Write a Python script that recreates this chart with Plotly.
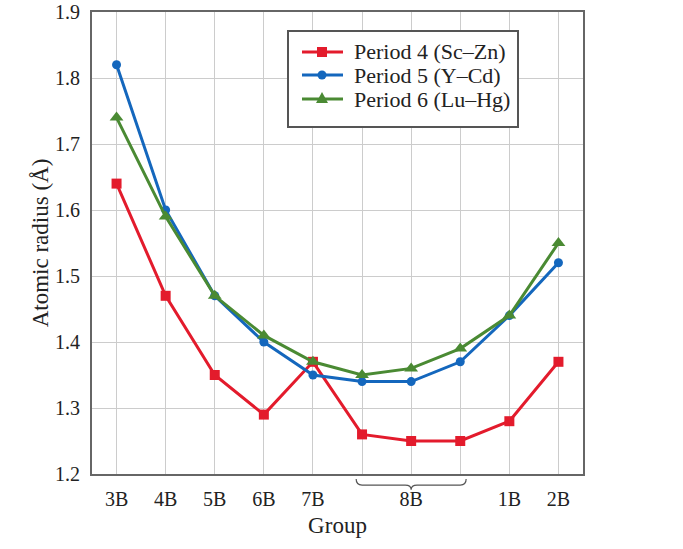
import plotly.graph_objects as go

groups = ["3B", "4B", "5B", "6B", "7B", "", "8B", "", "1B", "2B"]
positions = list(range(10))
period4 = [1.64, 1.47, 1.35, 1.29, 1.37, 1.26, 1.25, 1.25, 1.28, 1.37]
period5 = [1.82, 1.60, 1.47, 1.40, 1.35, 1.34, 1.34, 1.37, 1.44, 1.52]
period6 = [1.74, 1.59, 1.47, 1.41, 1.37, 1.35, 1.36, 1.39, 1.44, 1.55]
names = ["Period 4 (Sc\u2013Zn)", "Period 5 (Y\u2013Cd)", "Period 6 (Lu\u2013Hg)"]
colors = ["#e31b2c", "#1467bd", "#4a8a33"]
symbols = ["square", "circle", "triangle-up"]
sizes = [10, 9, 12]

FONT = "Liberation Serif"
W, H = 683, 549
ML, MR, MT, MB = 92, 100, 12, 75
PW, PH = W - ML - MR, H - MT - MB


def px(xp):
    return (xp - ML) / PW


def py(yp):
    return (H - MB - yp) / PH


fig = go.Figure()
for vals, nm, c, s, sz in zip([period4, period5, period6], names, colors, symbols, sizes):
    fig.add_trace(go.Scatter(x=positions, y=vals, name=nm, mode="lines+markers",
                             line=dict(color=c, width=3),
                             marker=dict(symbol=s, size=sz, color=c),
                             showlegend=False))

fig.update_layout(
    width=W, height=H,
    margin=dict(l=ML, r=MR, t=MT, b=MB),
    paper_bgcolor="white", plot_bgcolor="white",
    font=dict(family=FONT, size=20, color="#222"),
    xaxis=dict(range=[-0.5, 9.5], tickvals=positions, ticktext=groups,
               showgrid=True, gridcolor="#cccccc", gridwidth=1,
               showline=True, linecolor="#666", linewidth=2, mirror=True,
               ticks="", ticklabelstandoff=6, zeroline=False, automargin=False,
               title=dict(text="Group", font=dict(family=FONT, size=23), standoff=8)),
    yaxis=dict(range=[1.2, 1.9], dtick=0.1, tickformat=".1f",
               showgrid=True, gridcolor="#cccccc", gridwidth=1,
               showline=True, linecolor="#666", linewidth=2, mirror=True,
               ticks="", ticklabelstandoff=6, zeroline=False, automargin=False,
               title=dict(text="Atomic radius (\u00c5)", font=dict(family=FONT, size=23), standoff=0)),
    showlegend=False,
)

# legend box (drawn as shapes + annotations)
fig.add_shape(type="rect", xref="paper", yref="paper",
              x0=px(288), x1=px(518), y0=py(127), y1=py(31),
              line=dict(color="#555", width=2), fillcolor="white", layer="above")
rows = [52, 75, 99]
for nm, c, s, yrow in zip(names, colors, symbols, rows):
    fig.add_shape(type="line", xref="paper", yref="paper",
                  x0=px(302), x1=px(343), y0=py(yrow), y1=py(yrow),
                  line=dict(color=c, width=3))
    common = dict(xref="paper", yref="paper", xsizemode="pixel", ysizemode="pixel",
                  xanchor=px(322), yanchor=py(yrow), fillcolor=c, line=dict(color=c, width=0))
    if s == "square":
        fig.add_shape(type="rect", x0=-5, x1=5, y0=-5, y1=5, **common)
    elif s == "circle":
        fig.add_shape(type="circle", x0=-4.5, x1=4.5, y0=-4.5, y1=4.5, **common)
    else:
        fig.add_shape(type="path", path="M -6 -4 L 6 -4 L 0 7 Z", **common)
    fig.add_annotation(x=px(352), y=py(yrow), xref="paper", yref="paper",
                       text=nm, showarrow=False, xanchor="left", yanchor="middle",
                       font=dict(family=FONT, size=22, color="#222"))

# curly brace under the 8B group
fig.add_shape(type="path", xref="x", yref="paper",
              path="M 4.88 -0.011 Q 4.88 -0.024 5.0 -0.024 L 5.88 -0.024 Q 6.0 -0.024 6.0 -0.034 "
                   "Q 6.0 -0.024 6.12 -0.024 L 7.0 -0.024 Q 7.12 -0.024 7.12 -0.011",
              line=dict(color="#555", width=1.2))

fig.write_html("out.html")
